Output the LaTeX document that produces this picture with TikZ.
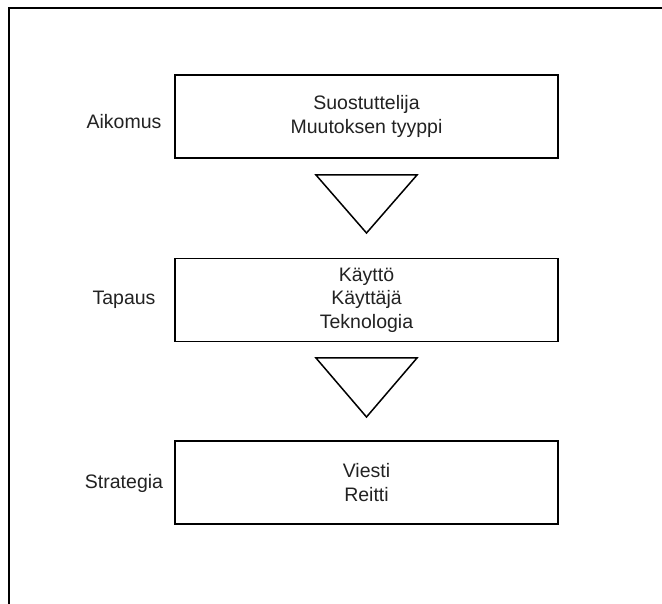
\documentclass[tikz,border=0pt]{standalone}
\usepackage{fontspec}
\setmainfont{Liberation Sans}
\definecolor{txt}{HTML}{222222}
\begin{document}
\begin{tikzpicture}[x=1pt,y=-1pt,
  stagebox/.style={draw=black,line width=1.5pt,minimum width=383pt,minimum height=83pt,inner sep=0pt,align=center,text=txt,font=\fontsize{19.5}{23.5}\selectfont},
  sidelabel/.style={text=txt,font=\fontsize{19.5}{23.5}\selectfont,inner sep=0pt},
  funnel/.style={draw=black,line width=1.5pt,line join=miter}]
\useasboundingbox (0,0) rectangle (662,604);
\fill[white] (0,0) rectangle (662,604);
\draw[line width=2pt] (8.5,610) -- (8.5,8.5) -- (670,8.5);
\node[stagebox] (b1) at (366.5,116.5) {Suostuttelija\\Muutoksen tyyppi};
\node[stagebox] (b2) at (366.5,300) {Käyttö\\Käyttäjä\\Teknologia};
\node[stagebox] (b3) at (366.5,482.5) {Viesti\\Reitti};
\node[sidelabel] (l1) at (124,122) {Aikomus};
\node[sidelabel] (l2) at (124,300) {Tapaus};
\node[sidelabel] (l3) at (124,483) {Strategia};
\draw[funnel] (316,175) -- (417,175) -- (366.5,233) -- cycle;
\draw[funnel] (316,358) -- (417,358) -- (366.5,417) -- cycle;
\end{tikzpicture}
\end{document}
